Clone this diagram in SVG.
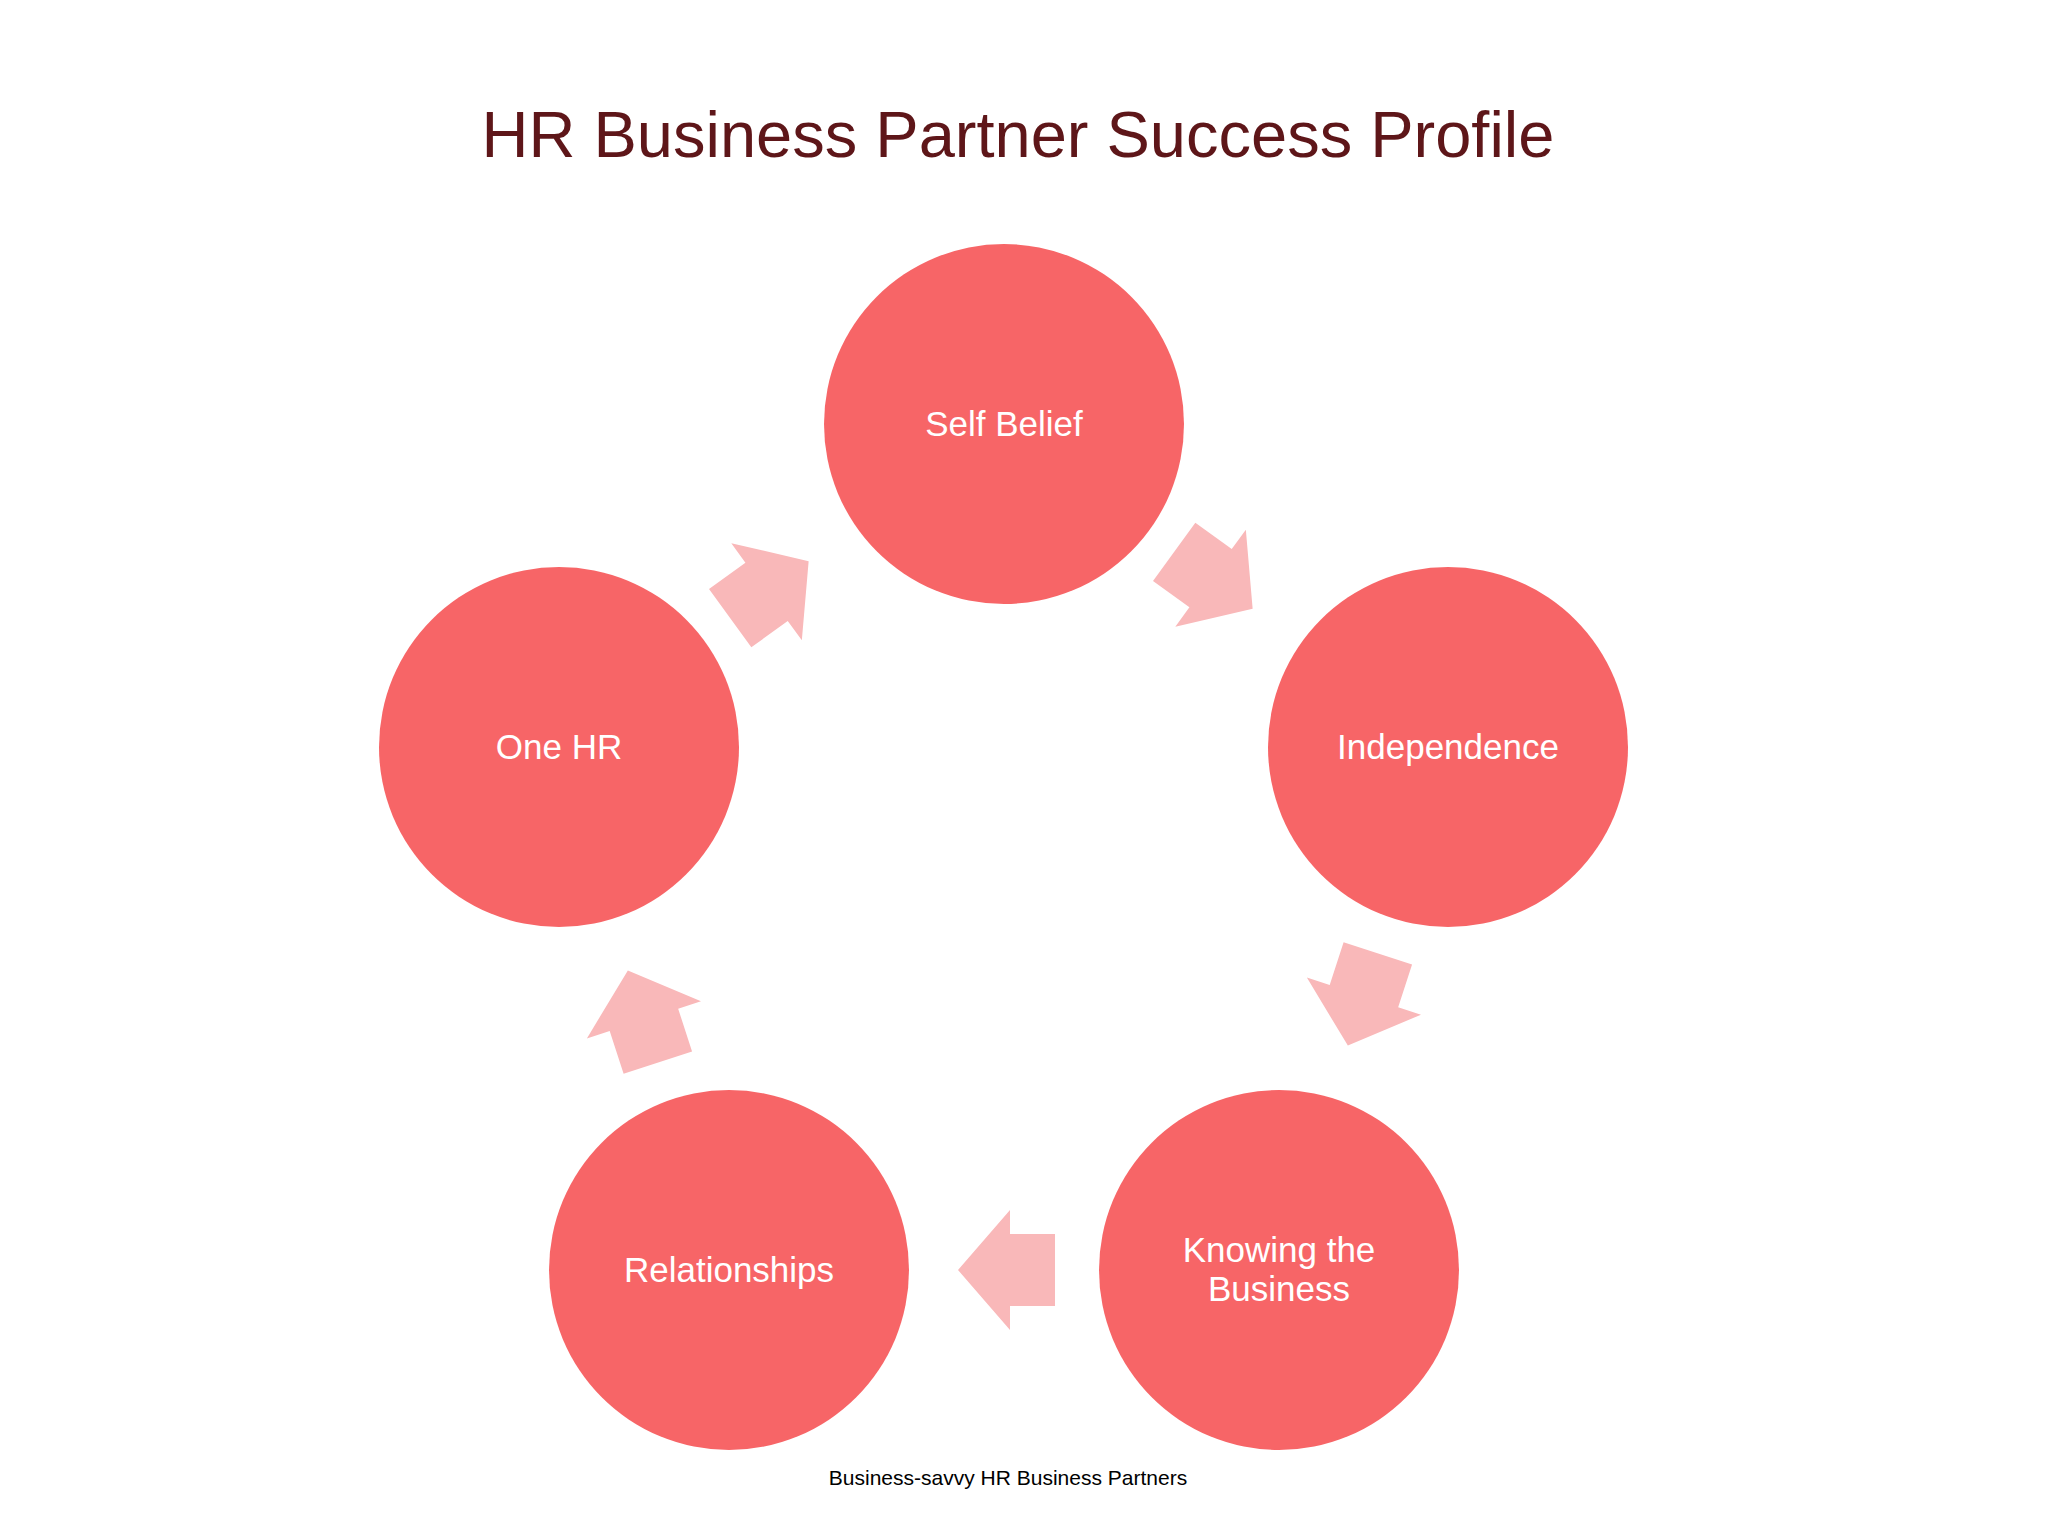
<svg xmlns="http://www.w3.org/2000/svg" width="2048" height="1536" viewBox="0 0 2048 1536">
<style>
.n{fill:#f76567}
.t{fill:#fff;font-family:"Liberation Sans",Arial,sans-serif;font-size:35px;text-anchor:middle}
.a{fill:#f9b8b9}
</style>
<defs><polygon id="arr" points="-48,-36 -3,-36 -3,-60 49,0 -3,60 -3,36 -48,36"/></defs>
<rect width="2048" height="1536" fill="#fff"/>
<text x="1018" y="157" font-family="'Liberation Sans',Arial,sans-serif" font-size="65" fill="#5e1619" text-anchor="middle">HR Business Partner Success Profile</text>
<g id="connectors">
<use href="#arr" class="a" transform="translate(1213,580) rotate(36)"/>
<use href="#arr" class="a" transform="translate(1363,999) rotate(108)"/>
<use href="#arr" class="a" transform="translate(1007,1270) rotate(180)"/>
<use href="#arr" class="a" transform="translate(643,1017) rotate(252)"/>
<use href="#arr" class="a" transform="translate(769,590) rotate(324)"/>
</g>
<g id="self"><circle class="n" cx="1004" cy="424" r="180"/><text class="t" x="1004" y="436">Self Belief</text></g>
<g id="independence"><circle class="n" cx="1448" cy="747" r="180"/><text class="t" x="1448" y="759">Independence</text></g>
<g id="knowing"><circle class="n" cx="1279" cy="1270" r="180"/><text class="t" x="1279" y="1262">Knowing the</text><text class="t" x="1279" y="1301">Business</text></g>
<g id="relationships"><circle class="n" cx="729" cy="1270" r="180"/><text class="t" x="729" y="1282">Relationships</text></g>
<g id="onehr"><circle class="n" cx="559" cy="747" r="180"/><text class="t" x="559" y="759">One HR</text></g>
<text x="1008" y="1485" font-family="'Liberation Sans',Arial,sans-serif" font-size="21" fill="#000" text-anchor="middle">Business-savvy HR Business Partners</text>
</svg>
